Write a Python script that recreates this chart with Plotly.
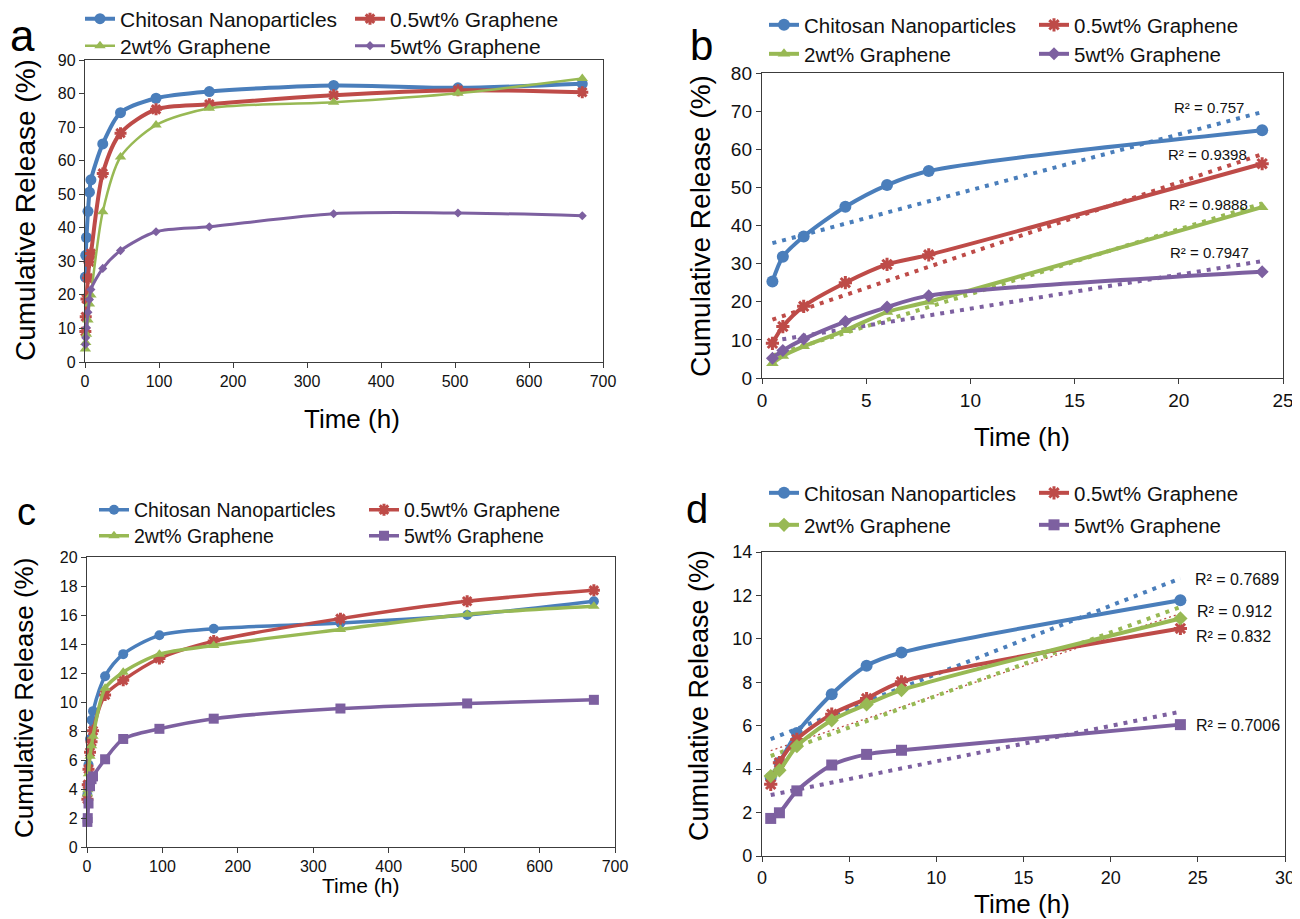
import numpy as np
import plotly.graph_objects as go

# page body adds an 8px margin; the figure is sized/positioned to compensate
OFF = 8
W, H = 1300 - OFF, 919 - OFF
FONT = "Arial, Liberation Sans, sans-serif"

# ---------------- data ----------------
series_names = ["Chitosan Nanoparticles", "0.5wt% Graphene", "2wt% Graphene", "5wt% Graphene"]
time_all = [0.5, 1, 2, 4, 6, 8, 24, 48, 96, 168, 336, 504, 672]   # h

# Panels a / b  (cumulative release, %)
ab_chitosan = [25.3, 31.8, 37.1, 44.9, 50.6, 54.3, 65.0, 74.3, 78.6, 80.6, 82.4, 81.7, 82.9]
ab_g05 = [9.1, 13.5, 18.8, 25.0, 29.8, 32.3, 56.2, 68.2, 75.3, 76.8, 79.5, 81.0, 80.4]
ab_g2 = [3.9, 5.8, 8.3, 12.5, 17.3, 20.0, 44.8, 61.1, 70.6, 75.6, 77.4, 80.1, 84.5]
ab_g5 = [5.2, 7.2, 10.2, 14.8, 18.6, 21.6, 27.9, 33.2, 38.8, 40.3, 44.2, 44.4, 43.6]
ab_r2 = ["0.757", "0.9398", "0.9888", "0.7947"]

# Panels c / d  (cumulative release, %)
cd_chitosan = [3.6, 4.3, 5.67, 7.45, 8.76, 9.37, 11.78, 13.3, 14.6, 15.05, 15.45, 16.0, 16.95]
cd_g05 = [3.3, 4.3, 5.37, 6.53, 7.25, 8.02, 10.48, 11.5, 13.0, 14.2, 15.75, 16.95, 17.7]
cd_g2 = [3.68, 3.95, 5.06, 6.25, 6.98, 7.64, 10.94, 12.05, 13.3, 13.9, 15.0, 16.05, 16.6]
cd_g5 = [1.73, 1.99, 3.0, 4.19, 4.68, 4.87, 6.05, 7.45, 8.15, 8.85, 9.55, 9.9, 10.15]
cd_r2 = ["0.7689", "0.832", "0.912", "0.7006"]

# ---------------- styles ----------------
colors = ["#4A7EBB", "#BE4B48", "#98B954", "#7D60A0"]
AX = "#3c3c3c"
TXT = "#111111"

panels = [
    dict(key="", letter="a", data=[ab_chitosan, ab_g05, ab_g2, ab_g5], n=13, xr=[0, 700], yr=[0, 90],
         xd=100, yd=10, box=(85, 603, 60, 362), tick=16,
         symbols=["circle", "asterisk-open", "triangle-up", "diamond"], msz=[11, 10, 10, 7], lw=[4, 4, 2.5, 3],
         trend=None, r2=None, r2size=15,
         letter_pos=(22, 8.5, 44, "top"), ytitle=(25, 210, 28), xtitle=(352, 419, 26),
         leg=(80, [19, 46], 21)),
    dict(key="2", letter="b", data=[ab_chitosan, ab_g05, ab_g2, ab_g5], n=7, xr=[0, 25], yr=[0, 80],
         xd=5, yd=10, box=(762, 1283, 73, 378), tick=19,
         symbols=["circle", "asterisk-open", "triangle-up", "diamond"], msz=[12, 11, 11, 10], lw=[4, 4, 4, 4],
         trend=[4, 4, 4, 4], r2=ab_r2, r2size=15,
         r2pos=[(21.45, 70.9), (21.36, 58.6), (21.41, 45.6), (21.47, 32.9)],
         letter_pos=(701, 46, 42, "middle"), ytitle=(700, 226, 28), xtitle=(1022, 437, 26),
         leg=(764, [25, 54], 20.5)),
    dict(key="3", letter="c", data=[cd_chitosan, cd_g05, cd_g2, cd_g5], n=13, xr=[0, 700], yr=[0, 20],
         xd=100, yd=2, box=(87, 615, 557, 847), tick=16,
         symbols=["circle", "asterisk-open", "triangle-up", "square"], msz=[10, 10, 10, 10], lw=[3.5, 3.5, 3.5, 3.5],
         trend=None, r2=None, r2size=15,
         letter_pos=(26, 512, 38, "middle"), ytitle=(24, 698, 26), xtitle=(360, 885, 21),
         leg=(94, [510, 536], 19.5)),
    dict(key="4", letter="d", data=[cd_chitosan, cd_g05, cd_g2, cd_g5], n=7, xr=[0, 30], yr=[0, 14],
         xd=5, yd=2, box=(762, 1285, 552, 856), tick=18,
         symbols=["circle", "asterisk-open", "diamond", "square"], msz=[12, 11, 11, 11], lw=[4, 4, 4, 4],
         trend=[4, 1.3, 4, 4], r2=cd_r2, r2size=16,
         r2pos=[(27.24, 12.74), (27.07, 10.1), (27.13, 11.27), (27.33, 6.03)],
         letter_pos=(697, 509, 40, "middle"), ytitle=(699, 696, 27), xtitle=(1022, 904, 26),
         leg=(764, [493, 525], 20.5)),
]


def fx(px):
    return (px - OFF) / W


def fy(py):
    return 1 - (py - OFF) / H


fig = go.Figure()
annotations = []
layout = dict(width=W, height=H, margin=dict(l=0, r=0, t=0, b=0, autoexpand=False),
              paper_bgcolor="white", plot_bgcolor="white",
              font=dict(family=FONT, color=TXT))

for pi, p in enumerate(panels):
    k = p["key"]
    xa, ya = "x" + k, "y" + k
    x0, x1, y0, y1 = p["box"]
    common = dict(showline=True, linecolor=AX, linewidth=1.4, mirror=True, ticks="outside",
                  ticklen=5, tickwidth=1.3, tickcolor=AX, showgrid=False, zeroline=False,
                  automargin=False,
                  tickfont=dict(family=FONT, size=p["tick"], color=TXT))
    layout["xaxis" + k] = dict(common, domain=[fx(x0), fx(x1)], range=p["xr"], dtick=p["xd"],
                               tick0=0, anchor=ya)
    layout["yaxis" + k] = dict(common, domain=[fy(y1), fy(y0)], range=p["yr"], dtick=p["yd"],
                               tick0=0, anchor=xa)

    n = p["n"]
    xs = np.array(time_all[:n], dtype=float)

    # trendlines (linear least-squares fit) drawn under the data
    if p["trend"]:
        for si, ys_full in enumerate(p["data"]):
            ys = np.array(ys_full[:n], dtype=float)
            m, b = np.polyfit(xs, ys, 1)
            tx = np.array([xs.min(), xs.max()])
            fig.add_trace(go.Scatter(
                x=tx, y=m * tx + b, xaxis=xa, yaxis=ya, mode="lines", showlegend=False,
                hoverinfo="skip",
                line=dict(color=colors[si], width=p["trend"][si],
                          dash="4px,6px" if p["trend"][si] > 2 else "2px,3px")))

    leg_names = ["legend" if pi == 0 else f"legend{2 * pi + 1}", f"legend{2 * pi + 2}"]
    for si, ys_full in enumerate(p["data"]):
        ys = ys_full[:n]
        c = colors[si]
        mk = dict(symbol=p["symbols"][si], size=p["msz"][si], color=c)
        if p["symbols"][si] == "asterisk-open":
            mk["line"] = dict(color=c, width=3)
        fig.add_trace(go.Scatter(
            x=xs, y=ys, xaxis=xa, yaxis=ya, mode="lines+markers", name=series_names[si],
            line=dict(color=c, width=p["lw"][si], shape="spline", smoothing=0.8),
            marker=mk, cliponaxis=False,
            legend=leg_names[si // 2]))

    # legends (two rows, two entries each)
    lx, rows, lfs = p["leg"]
    for r, ln in enumerate(leg_names):
        layout[ln] = dict(x=fx(lx), xanchor="left", y=fy(rows[r]), yanchor="middle",
                          orientation="h", entrywidth=225, entrywidthmode="pixels",
                          font=dict(family=FONT, size=lfs, color=TXT), bgcolor="rgba(0,0,0,0)",
                          itemwidth=30, tracegroupgap=0)

    # R^2 labels
    if p["r2"]:
        for si, txt in enumerate(p["r2"]):
            rx, ry = p["r2pos"][si]
            annotations.append(dict(x=rx, y=ry, xref=xa, yref=ya, text=f"R² = {txt}",
                                    xanchor="center", yanchor="middle",
                                    showarrow=False, font=dict(family=FONT, size=p["r2size"], color=TXT)))

    # panel letter
    lx_, ly_, lsz, lanchor = p["letter_pos"]
    annotations.append(dict(x=fx(lx_), y=fy(ly_), xref="paper", yref="paper", text=p["letter"],
                            xanchor="center", yanchor=lanchor,
                            showarrow=False, font=dict(family=FONT, size=lsz, color="#000")))
    # axis titles
    tx_, ty_, tsz = p["ytitle"]
    annotations.append(dict(x=fx(tx_), y=fy(ty_), xref="paper", yref="paper",
                            text="Cumulative Release (%)", textangle=-90, showarrow=False,
                            xanchor="center", yanchor="middle",
                            font=dict(family=FONT, size=tsz, color="#000")))
    tx_, ty_, tsz = p["xtitle"]
    annotations.append(dict(x=fx(tx_), y=fy(ty_), xref="paper", yref="paper",
                            text="Time (h)", showarrow=False,
                            xanchor="center", yanchor="middle",
                            font=dict(family=FONT, size=tsz, color="#000")))

layout["annotations"] = annotations
fig.update_layout(**layout)
fig.write_html("out.html")
